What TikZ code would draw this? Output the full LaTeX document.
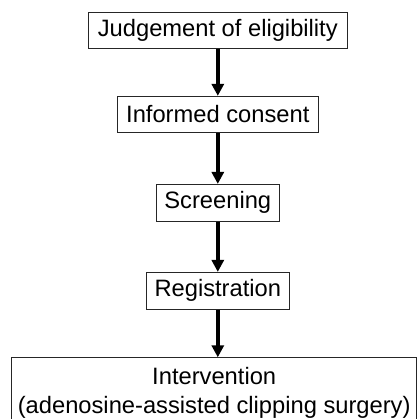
\documentclass[tikz,border=0pt]{standalone}
\usepackage{fontspec}
\setmainfont{Liberation Sans}
\usetikzlibrary{arrows.meta}
\begin{document}
\begin{tikzpicture}[x=1bp,y=-1bp,
  stage/.style={draw=black!85, line width=0.8bp, inner sep=0pt, align=center,
    minimum height=36.5bp, font=\fontsize{23.8}{28.5}\selectfont},
  flow/.style={line width=4bp, -{Triangle[length=12bp,width=12bp]}}]
\useasboundingbox (0,0) rectangle (417,419);
\node [stage, minimum width=259bp] (judge) at (217.8,30.5) {Judgement of eligibility};
\node [stage, minimum width=201bp] (consent) at (217.8,114.5) {Informed consent};
\node [stage, minimum width=123.7bp, minimum height=37bp] (screen) at (217.8,202.8) {Screening};
\node [stage, minimum width=142.7bp, minimum height=37bp] (regist) at (217.8,290.8) {Registration};
\node [stage, minimum width=405bp, minimum height=70bp] (interv) at (214.2,392.7)
  {Intervention\\(adenosine-assisted clipping surgery)};
\draw [flow] (judge) -- (consent);
\draw [flow] (consent) -- (screen);
\draw [flow] (screen) -- (regist);
\draw [flow] (regist) -- (regist |- interv.north);
\end{tikzpicture}
\end{document}
